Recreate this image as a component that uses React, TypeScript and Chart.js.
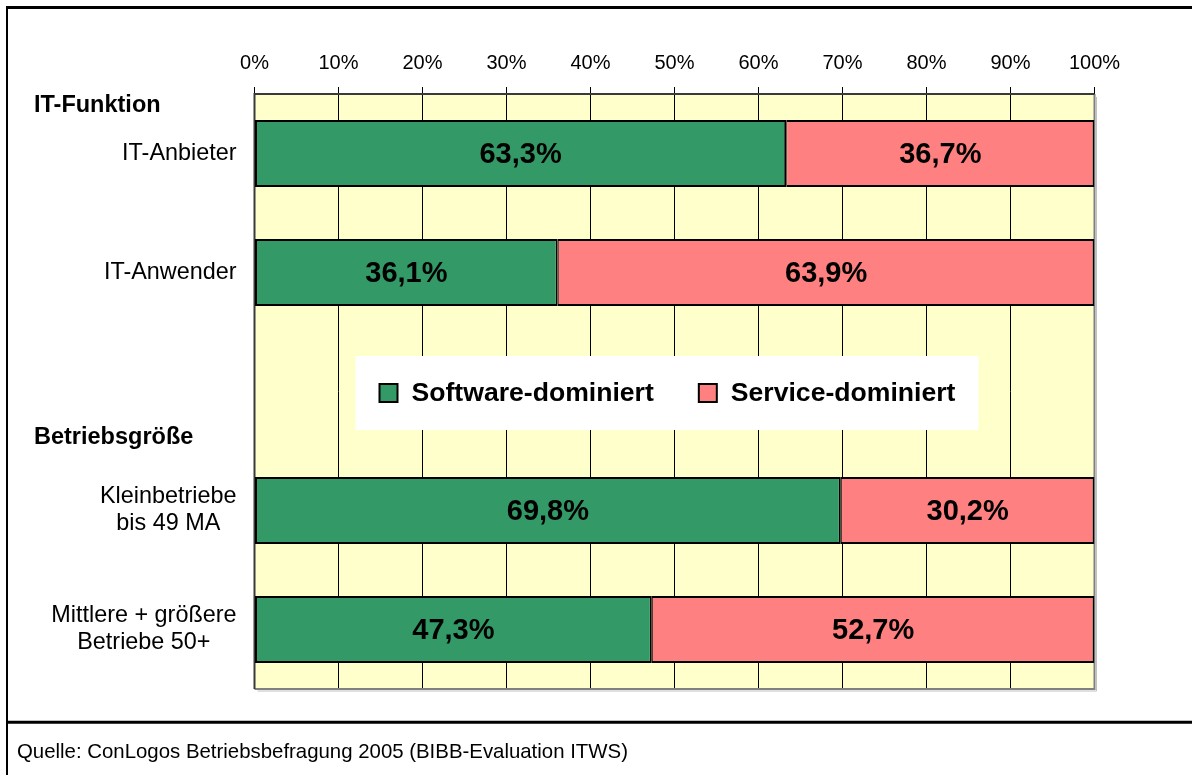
import React, { useEffect, useRef } from 'react';
import { Chart, registerables } from 'chart.js';

Chart.register(...registerables);

// ---------- data ----------
const categories: string[][] = [
  ['IT-Anbieter'],
  ['IT-Anwender'],
  [''],
  ['Kleinbetriebe', 'bis 49 MA'],
  ['Mittlere + größere', 'Betriebe 50+'],
];
const softwareValues: (number | null)[] = [63.3, 36.1, null, 69.8, 47.3];
const serviceValues: (number | null)[] = [36.7, 63.9, null, 30.2, 52.7];
const seriesNames = ['Software-dominiert', 'Service-dominiert'];
const groupHeaders = ['IT-Funktion', 'Betriebsgröße'];
const groupHeaderCategory = [0, 3];
const sourceText = 'Quelle: ConLogos Betriebsbefragung 2005 (BIBB-Evaluation ITWS)';

// ---------- styles ----------
const FONT = '"Liberation Sans", Arial, Helvetica, sans-serif';
const GREEN = '#339966';
const RED = '#FF8080';
const PLOT_BG = '#FFFFCC';
const headerOffsetsSlots = [-0.405, -0.615];

const fmt = (v: number) => v.toFixed(1).replace('.', ',') + '%';

const decor = {
  id: 'decor',
  beforeDraw(chart: any) {
    const { ctx, width, height, chartArea: ca } = chart;
    ctx.save();
    ctx.fillStyle = '#ffffff';
    ctx.fillRect(0, 0, width, height);
    ctx.fillStyle = PLOT_BG;
    ctx.fillRect(ca.left, ca.top, ca.right - ca.left, ca.bottom - ca.top);
    // outer frame
    ctx.strokeStyle = '#000';
    ctx.lineWidth = 3;
    ctx.beginPath();
    ctx.moveTo(6, 7.5);
    ctx.lineTo(width, 7.5);
    ctx.stroke();
    ctx.beginPath();
    ctx.moveTo(6, 722.2);
    ctx.lineTo(width, 722.2);
    ctx.stroke();
    ctx.lineWidth = 2;
    ctx.beginPath();
    ctx.moveTo(7, 6);
    ctx.lineTo(7, height);
    ctx.stroke();
    // source
    ctx.fillStyle = '#000';
    ctx.font = `20.4px ${FONT}`;
    ctx.textAlign = 'left';
    ctx.textBaseline = 'middle';
    ctx.fillText(sourceText, 17, 752);
    ctx.restore();
  },
  beforeDatasetsDraw(chart: any) {
    const { ctx, chartArea: ca } = chart;
    ctx.save();
    // shadow
    ctx.strokeStyle = '#c0c0c0';
    ctx.lineWidth = 1;
    ctx.beginPath();
    ctx.moveTo(ca.right + 2, ca.top + 3);
    ctx.lineTo(ca.right + 2, ca.bottom + 2);
    ctx.lineTo(ca.left + 3, ca.bottom + 2);
    ctx.stroke();
    ctx.strokeStyle = '#808080';
    ctx.lineWidth = 2;
    ctx.beginPath();
    ctx.moveTo(ca.right, ca.top);
    ctx.lineTo(ca.right, ca.bottom);
    ctx.lineTo(ca.left, ca.bottom);
    ctx.stroke();
    ctx.strokeStyle = '#3a3a3a';
    ctx.beginPath();
    ctx.moveTo(ca.left, ca.bottom);
    ctx.lineTo(ca.left, ca.top);
    ctx.lineTo(ca.right, ca.top);
    ctx.stroke();
    ctx.restore();
  },
  afterDatasetsDraw(chart: any) {
    const { ctx, chartArea: ca } = chart;
    const yScale = chart.scales.y;
    ctx.save();
    // data labels
    ctx.fillStyle = '#000';
    ctx.font = `bold 29px ${FONT}`;
    ctx.textAlign = 'center';
    ctx.textBaseline = 'middle';
    chart.data.datasets.forEach((ds: any, di: number) => {
      const meta = chart.getDatasetMeta(di);
      meta.data.forEach((el: any, i: number) => {
        const v = ds.data[i];
        if (v == null) return;
        const p = el.getProps(['x', 'y', 'base'], true);
        ctx.fillText(fmt(v), (p.x + p.base) / 2, p.y + 1);
      });
    });
    // legend box in empty slot
    ctx.font = `bold 26.6px ${FONT}`;
    const w1 = ctx.measureText(seriesNames[0]).width;
    const w2 = ctx.measureText(seriesNames[1]).width;
    const padL = 24, box = 18, gap = 14, itemGap = 45, padR = 23;
    const lw = padL + box + gap + w1 + itemGap + box + gap + w2 + padR;
    const lh = 74;
    const cy = yScale.getPixelForValue(2) + 1.5;
    const lx = ca.left + 101;
    const ly = cy - lh / 2;
    ctx.fillStyle = '#ffffff';
    ctx.fillRect(lx, ly, lw, lh);
    const colors = [GREEN, RED];
    let x = lx + padL;
    [w1, w2].forEach((w, i) => {
      ctx.fillStyle = colors[i];
      ctx.fillRect(x, cy - box / 2, box, box);
      ctx.strokeStyle = '#000';
      ctx.lineWidth = 2;
      ctx.strokeRect(x, cy - box / 2, box, box);
      ctx.fillStyle = '#000';
      ctx.textAlign = 'left';
      ctx.textBaseline = 'middle';
      ctx.fillText(seriesNames[i], x + box + gap, cy + 1);
      x += box + gap + w + itemGap;
    });
    ctx.restore();
  },
  afterDraw(chart: any) {
    const { ctx, chartArea: ca } = chart;
    const yScale = chart.scales.y;
    const slot = Math.abs(yScale.getPixelForValue(1) - yScale.getPixelForValue(0));
    ctx.save();
    ctx.fillStyle = '#000';
    // category labels: block right-aligned, lines centered within block
    ctx.font = `23.4px ${FONT}`;
    ctx.textBaseline = 'middle';
    ctx.textAlign = 'center';
    const right = ca.left - 18;
    const lineH = 27;
    categories.forEach((lines, i) => {
      const cy = yScale.getPixelForValue(i);
      const w = Math.max(...lines.map((l) => ctx.measureText(l).width));
      const cx = right - w / 2;
      lines.forEach((l, li) => {
        const y = cy + (li - (lines.length - 1) / 2) * lineH;
        ctx.fillText(l, cx, y);
      });
    });
    // group headers
    ctx.font = `bold 23.5px ${FONT}`;
    ctx.textAlign = 'left';
    groupHeaders.forEach((h, i) => {
      const y = yScale.getPixelForValue(groupHeaderCategory[i]) + headerOffsetsSlots[i] * slot;
      ctx.fillText(h, 34, y);
    });
    ctx.restore();
  },
};

export default function App() {
  const ref = useRef<HTMLCanvasElement | null>(null);
  useEffect(() => {
    if (!ref.current) return;
    const chart = new Chart(ref.current, {
      type: 'bar',
      data: {
        labels: categories as any,
        datasets: [
          {
            label: seriesNames[0],
            data: softwareValues as any,
            backgroundColor: GREEN,
            borderColor: '#000',
            borderWidth: { top: 2, bottom: 2, left: 2, right: 2 } as any,
            borderSkipped: false,
            barPercentage: 0.563,
            categoryPercentage: 1,
          },
          {
            label: seriesNames[1],
            data: serviceValues as any,
            backgroundColor: RED,
            borderColor: '#000',
            borderWidth: { top: 2, bottom: 2, left: 1, right: 2 } as any,
            borderSkipped: false,
            barPercentage: 0.563,
            categoryPercentage: 1,
          },
        ],
      },
      options: {
        indexAxis: 'y',
        responsive: false,
        animation: false,
        devicePixelRatio: 1,
        layout: { padding: { left: 254.5, right: 97.5, top: 0, bottom: 86 } },
        plugins: { legend: { display: false }, tooltip: { enabled: false } },
        scales: {
          x: {
            position: 'top',
            stacked: true,
            min: 0,
            max: 100,
            ticks: {
              stepSize: 10,
              autoSkip: false,
              maxRotation: 0,
              padding: 12,
              color: '#000',
              font: { family: FONT, size: 20 },
              callback: (v: any) => v + '%',
            },
            grid: { color: '#000', lineWidth: 1, tickLength: 7, drawTicks: true },
            border: { display: false },
            afterFit: (s: any) => {
              s.height = 94;
            },
          },
          y: { display: false, stacked: true },
        },
      },
      plugins: [decor],
    });
    return () => chart.destroy();
  }, []);
  return (
    <div style={{ position: 'fixed', left: 0, top: 0, width: 1192, height: 775, background: '#fff' }}>
      <canvas ref={ref} width={1192} height={775} style={{ display: 'block' }} />
    </div>
  );
}
